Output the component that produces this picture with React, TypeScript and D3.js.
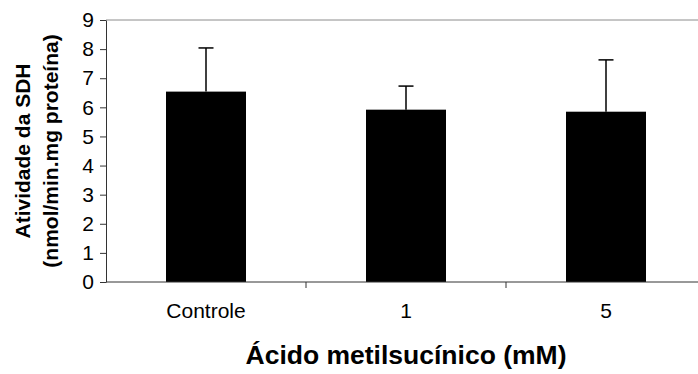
import * as d3 from 'd3';
import { useEffect, useRef } from 'react';

const WIDTH = 698;
const HEIGHT = 374;

const categories = ['Controle', '1', '5'];
const means = [6.54, 5.92, 5.85];
const errors = [1.5, 0.81, 1.78];
const yTicks = [0, 1, 2, 3, 4, 5, 6, 7, 8, 9];

export default function App() {
    const svgRef = useRef<SVGSVGElement | null>(null);

    useEffect(() => {
        if (!svgRef.current) {
            return;
        }
        const svg = d3.select(svgRef.current);
        svg.selectAll('*').remove();

        const left = 106;
        const right = 706;
        const top = 20;
        const bottom = 282;
        const font = 'Liberation Sans, Arial, sans-serif';

        const x = d3
            .scaleBand<string>()
            .domain(categories)
            .range([left, right])
            .paddingInner(0.6)
            .paddingOuter(0.3);
        const step = x.step();

        const y = d3.scaleLinear().domain([0, 9]).range([bottom, top]);

        // top frame line
        svg.append('line')
            .attr('x1', left)
            .attr('x2', right)
            .attr('y1', top)
            .attr('y2', top)
            .attr('stroke', '#8c8c8c')
            .attr('stroke-width', 1);

        const rows = categories.map((c, i) => ({ c, m: means[i], e: errors[i] }));

        // error bars (upper only)
        const errG = svg.append('g').attr('stroke', '#000').attr('stroke-width', 1.5);
        rows.forEach((d) => {
            const cx = (x(d.c) ?? 0) + x.bandwidth() / 2;
            errG.append('line')
                .attr('x1', cx)
                .attr('x2', cx)
                .attr('y1', y(d.m))
                .attr('y2', y(d.m + d.e));
            errG.append('line')
                .attr('x1', cx - 7.5)
                .attr('x2', cx + 7.5)
                .attr('y1', y(d.m + d.e))
                .attr('y2', y(d.m + d.e));
        });

        svg.append('g')
            .selectAll('rect')
            .data(rows)
            .join('rect')
            .attr('x', (d) => x(d.c) ?? 0)
            .attr('y', (d) => y(d.m))
            .attr('width', x.bandwidth())
            .attr('height', (d) => bottom - y(d.m))
            .attr('fill', '#000');

        // y axis
        const yAxis = svg
            .append('g')
            .attr('transform', `translate(${left},0)`)
            .call(d3.axisLeft(y).tickValues(yTicks).tickSize(6).tickSizeOuter(0).tickPadding(6));
        yAxis.attr('font-family', font).attr('font-size', 21);
        yAxis.select('.domain').attr('stroke', '#333').attr('stroke-width', 1);
        yAxis.selectAll('.tick line').attr('stroke', '#333');
        yAxis.selectAll('.tick text').attr('fill', '#000');

        // x axis
        const xAxisG = svg.append('g').attr('transform', `translate(0,${bottom})`);
        xAxisG.append('line')
            .attr('x1', left)
            .attr('x2', right)
            .attr('stroke', '#333')
            .attr('stroke-width', 1);
        xAxisG.selectAll('line.sep')
            .data(categories.slice(1))
            .join('line')
            .attr('class', 'sep')
            .attr('x1', (c) => (x(c) ?? 0) - (step - x.bandwidth()) / 2)
            .attr('x2', (c) => (x(c) ?? 0) - (step - x.bandwidth()) / 2)
            .attr('y1', 0)
            .attr('y2', 6)
            .attr('stroke', '#333');
        xAxisG.selectAll('text')
            .data(categories)
            .join('text')
            .attr('x', (c) => (x(c) ?? 0) + x.bandwidth() / 2)
            .attr('y', 36)
            .attr('text-anchor', 'middle')
            .attr('font-family', font)
            .attr('font-size', 21)
            .attr('fill', '#000')
            .text((c) => c);

        svg.append('text')
            .attr('x', (left + right) / 2)
            .attr('y', 364)
            .attr('text-anchor', 'middle')
            .attr('font-family', font)
            .attr('font-size', 26.5)
            .attr('font-weight', 700)
            .attr('fill', '#000')
            .text('Ácido metilsucínico (mM)');

        const yTitle = svg
            .append('text')
            .attr('transform', `translate(0,${(top + bottom) / 2}) rotate(-90)`)
            .attr('text-anchor', 'middle')
            .attr('font-family', font)
            .attr('font-size', 21)
            .attr('font-weight', 700)
            .attr('fill', '#000');
        yTitle.append('tspan').attr('x', 0).attr('y', 30).text('Atividade da SDH');
        yTitle.append('tspan').attr('x', 0).attr('y', 58).text('(nmol/min.mg proteína)');
    }, []);

    return (
        <svg
            ref={svgRef}
            width={WIDTH}
            height={HEIGHT}
            style={{ position: 'absolute', left: 0, top: 0, background: '#fff' }}
        />
    );
}
